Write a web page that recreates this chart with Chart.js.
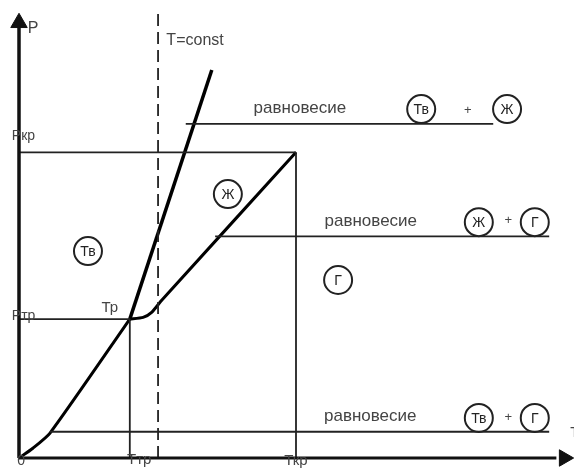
<!DOCTYPE html>
<html>
<head>
<meta charset="utf-8">
<script src="https://cdn.jsdelivr.net/npm/chart.js@4"></script>
<style>
  body { margin: 0; background: #fff; }
  canvas { display: block; }
</style>
</head>
<body>
<canvas id="diagram" width="574" height="470"></canvas>
<script>
// Phase diagram P(T), arbitrary units 0..100 on both axes
var tTriple = 20, pTriple = 31.2;
var tCrit = 50, pCrit = 68.7;
var tConst = 25.1;

// Curves
var sublimation = [[0,0],[2.5,2.2],[5.6,5.6],[tTriple,pTriple]];
var melting = [[tTriple,pTriple],[34.8,87.2]];
var vaporization = [[tTriple,pTriple],[22.4,31.6],[24.0,32.8],[25.8,35.5],[tCrit,pCrit]];

// Equilibrium lines: [tStart, tEnd, p]
var equilibrium = [[30.1,85.6,75.1],[35.4,95.7,49.8],[5.6,95.7,5.9]];
var eqText = "равновесие";
var eqTextT = [50.7, 63.5, 63.4];

// Circled phase marks
var phaseT = [12.45, 37.7, 57.6, 72.6, 88.1, 83.0, 93.1, 83.0, 93.1];
var phaseP = [46.5, 59.3, 40.0, 78.4, 78.4, 53.0, 53.0, 9.0, 9.0];
var phaseName = ["Тв","Ж","Г","Тв","Ж","Ж","Г","Тв","Г"];
var plusT = [81.0, 88.3, 88.3];
var plusP = [78.0, 53.5, 9.2];

// Axis labels: [text, t, p, align, font size]
var axisLabels = [
  ["P", 1.6, 96.6, "left", 16],
  ["T=const", 26.6, 93.7, "left", 16],
  ["Ркр", -1.3, 72.4, "left", 14],
  ["Ртр", -1.3, 31.9, "left", 14],
  ["Тр", 16.4, 33.7, "center", 15],
  ["Ттр", 21.7, -0.4, "center", 15],
  ["Ткр", 50.0, -0.7, "center", 15],
  ["0", 0.4, -0.7, "center", 14],
  ["T", 99.5, 5.6, "left", 14]
];

function pts(arr){
  return arr.map(function(p){ return {x:p[0], y:p[1]}; });
}

function lineSet(data, width, color, extra){
  var ds = {
    data: data,
    showLine: true,
    borderColor: color,
    borderWidth: width,
    pointRadius: 0,
    fill: false,
    clip: false
  };
  for (var k in extra) ds[k] = extra[k];
  return ds;
}

var datasets = [];
// axes
datasets.push(lineSet([{x:0,y:0},{x:0,y:97}], 3.5, "#111"));
datasets.push(lineSet([{x:0,y:0},{x:97,y:0}], 3, "#111"));
datasets.push({
  data: [{x:0,y:97.8}, {x:98.4,y:0}],
  pointStyle: "triangle",
  rotation: [0, 90],
  pointRadius: 9.5,
  backgroundColor: "#111",
  borderColor: "#111",
  borderWidth: 1,
  clip: false
});
// thin construction lines
var thin = "#222";
datasets.push(lineSet([{x:0,y:pTriple},{x:tTriple,y:pTriple}], 1.8, thin));
datasets.push(lineSet([{x:tTriple,y:pTriple},{x:tTriple,y:0}], 1.8, thin));
datasets.push(lineSet([{x:0,y:pCrit},{x:tCrit,y:pCrit}], 1.8, thin));
datasets.push(lineSet([{x:tCrit,y:pCrit},{x:tCrit,y:0}], 1.8, thin));
equilibrium.forEach(function(e){
  datasets.push(lineSet([{x:e[0],y:e[2]},{x:e[1],y:e[2]}], 1.8, thin));
});
// isotherm
datasets.push(lineSet([{x:tConst,y:0},{x:tConst,y:101}], 1.8, thin, {borderDash:[12,6]}));
// phase curves
datasets.push(lineSet(pts(sublimation), 3, "#000", {tension:0.2}));
datasets.push(lineSet(pts(melting), 3.5, "#000"));
datasets.push(lineSet(pts(vaporization), 3, "#000", {tension:0.2}));
// circles
datasets.push({
  data: phaseT.map(function(t,i){ return {x:t, y:phaseP[i]}; }),
  pointStyle: "circle",
  pointRadius: 14,
  backgroundColor: "#fff",
  borderColor: "#222",
  borderWidth: 2,
  clip: false
});
var circleIndex = datasets.length - 1;

var textPlugin = {
  id: "texts",
  afterDatasetsDraw: function(chart){
    var ctx = chart.ctx;
    var xs = chart.scales.x, ys = chart.scales.y;
    var family = "'Liberation Sans', Arial, sans-serif";
    ctx.save();
    ctx.textBaseline = "middle";
    ctx.fillStyle = "#444";
    axisLabels.forEach(function(l){
      ctx.font = l[4] + "px " + family;
      ctx.textAlign = l[3];
      ctx.fillText(l[0], xs.getPixelForValue(l[1]), ys.getPixelForValue(l[2]));
    });
    ctx.font = "17px " + family;
    ctx.textAlign = "center";
    equilibrium.forEach(function(e, i){
      ctx.fillText(eqText, xs.getPixelForValue(eqTextT[i]), ys.getPixelForValue(e[2]) - 15);
    });
    ctx.font = "13px " + family;
    plusT.forEach(function(t, i){
      ctx.fillText("+", xs.getPixelForValue(t), ys.getPixelForValue(plusP[i]));
    });
    ctx.fillStyle = "#222";
    ctx.font = "14px " + family;
    var meta = chart.getDatasetMeta(circleIndex);
    meta.data.forEach(function(pt, i){
      ctx.fillText(phaseName[i], pt.x, pt.y + 1);
    });
    ctx.restore();
  }
};

new Chart(document.getElementById("diagram"), {
  type: "scatter",
  data: { datasets: datasets },
  options: {
    responsive: false,
    animation: false,
    layout: { autoPadding: false, padding: { left: 19, right: 1, top: 13, bottom: 12 } },
    plugins: { legend: { display: false }, tooltip: { enabled: false } },
    scales: {
      x: { type: "linear", min: 0, max: 100, display: false },
      y: { type: "linear", min: 0, max: 100, display: false }
    }
  },
  plugins: [textPlugin]
});
</script>
</body>
</html>
